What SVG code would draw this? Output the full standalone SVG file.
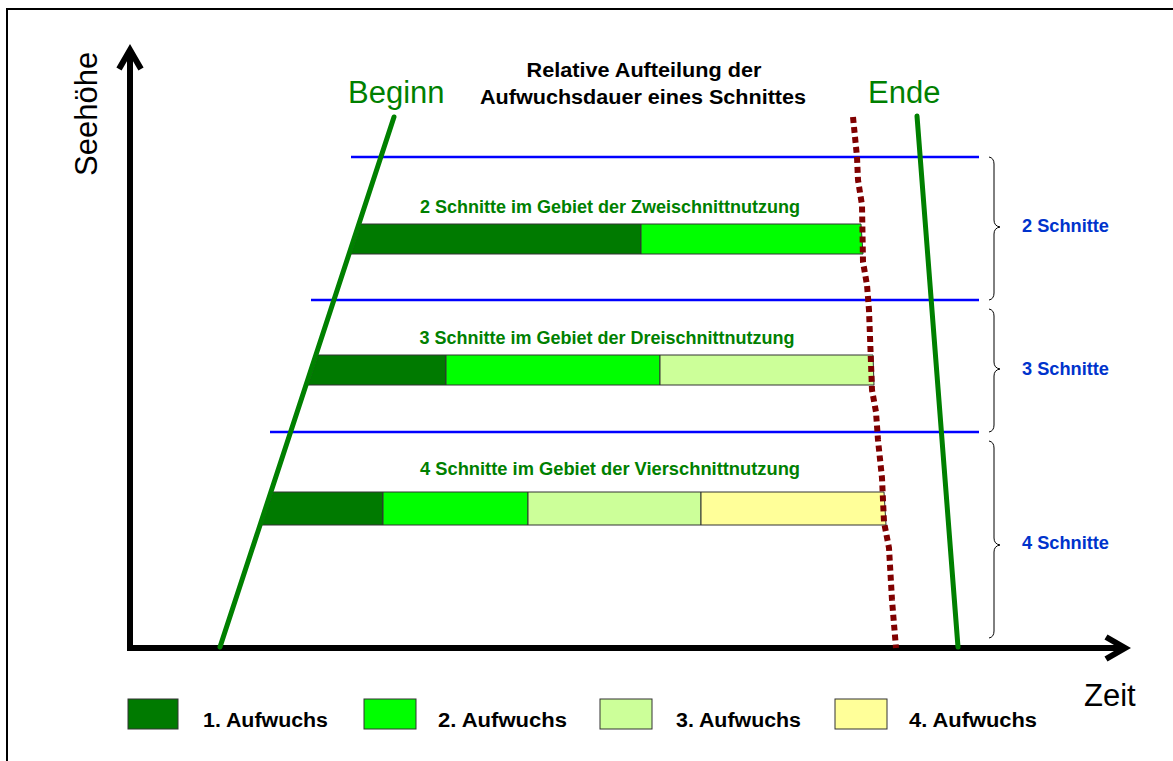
<svg xmlns="http://www.w3.org/2000/svg" width="1173" height="761" viewBox="0 0 1173 761">
<style>
.ax{stroke:#000;stroke-width:6;fill:none}
.big{font-family:"Liberation Sans",Arial,sans-serif;font-size:31px}
.g{fill:#008000}
.lbl{font-family:"Liberation Sans",Arial,sans-serif;font-weight:bold;font-size:17.5px;fill:#008000;text-anchor:middle}
.bl{font-family:"Liberation Sans",Arial,sans-serif;font-weight:bold;font-size:17.5px;fill:#0033CC}
.leg{font-family:"Liberation Sans",Arial,sans-serif;font-weight:bold;font-size:20px;fill:#000}
.ttl{font-family:"Liberation Sans",Arial,sans-serif;font-weight:bold;font-size:19.5px;fill:#000;text-anchor:middle}
.hl{stroke:#0000FF;stroke-width:2.5}
.gl{stroke:#008000;stroke-width:5;stroke-linecap:round}
.br{stroke:#000;stroke-width:1;fill:none}
.bar{stroke:#333;stroke-width:1}
.c1{fill:#007A00}.c2{fill:#00FF00}.c3{fill:#CCFF99}.c4{fill:#FFFF99}
</style>
<rect x="0" y="0" width="1173" height="761" fill="#fff"/>
<rect x="7" y="9" width="1175" height="770" fill="none" stroke="#000" stroke-width="2"/>

<g id="axes">
<line class="ax" x1="130" y1="651" x2="130" y2="50"/>
<polyline class="ax" points="119,69 130,50 141,69"/>
<line class="ax" x1="127" y1="648" x2="1124" y2="648"/>
<polyline class="ax" points="1106,637 1125,648 1106,659"/>
<text class="big" transform="translate(97,176) rotate(-90)" font-size="32">Seehöhe</text>
<text class="big" x="1084" y="706" font-size="32">Zeit</text>
</g>

<g id="title">
<text class="ttl" x="644" y="77" textLength="235" lengthAdjust="spacingAndGlyphs">Relative Aufteilung der</text>
<text class="ttl" x="643" y="104" textLength="326" lengthAdjust="spacingAndGlyphs">Aufwuchsdauer eines Schnittes</text>
</g>

<g id="bars">
<g id="bar2">
<polygon class="bar c1" points="361,224 641,224 641,254 351,254"/>
<polygon class="bar c2" points="641,224 861,224 863,254 641,254"/>
<text class="lbl" x="610" y="213" textLength="380" lengthAdjust="spacingAndGlyphs">2 Schnitte im Gebiet der Zweischnittnutzung</text>
</g>
<g id="bar3">
<polygon class="bar c1" points="318,355 446,355 446,385 308,385"/>
<polygon class="bar c2" points="446,355 660,355 660,385 446,385"/>
<polygon class="bar c3" points="660,355 873,355 874,385 660,385"/>
<text class="lbl" x="607" y="344" textLength="375" lengthAdjust="spacingAndGlyphs">3 Schnitte im Gebiet der Dreischnittnutzung</text>
</g>
<g id="bar4">
<polygon class="bar c1" points="273,492 383,492 383,525 262,525"/>
<polygon class="bar c2" points="383,492 528,492 528,525 383,525"/>
<polygon class="bar c3" points="528,492 701,492 701,525 528,525"/>
<polygon class="bar c4" points="701,492 884,492 886,525 701,525"/>
<text class="lbl" x="610" y="475" textLength="380" lengthAdjust="spacingAndGlyphs">4 Schnitte im Gebiet der Vierschnittnutzung</text>
</g>
</g>

<g id="connectors">
<line class="hl" x1="351" y1="157" x2="979" y2="157"/>
<line class="hl" x1="311" y1="300" x2="979" y2="300"/>
<line class="hl" x1="270" y1="432" x2="979" y2="432"/>
<line class="gl" x1="394" y1="117" x2="220" y2="647"/>
<line class="gl" x1="917" y1="116" x2="958" y2="647"/>
<polyline points="853,117 857,157 858,180 862,205 863,262 867,285 869,310 872,390 876,412 878,440 882,478 884,522 889,548 892,600 896,648" fill="none" stroke="#800000" stroke-width="6" stroke-dasharray="6,4"/>
<path class="br" d="M989,157 Q994,158 994,164 L994,220 Q994,226 1000,227 Q994,228 994,234 L994,293 Q994,299 989,300"/>
<path class="br" d="M989,309 Q994,310 994,316 L994,362 Q994,368 1000,369 Q994,370 994,376 L994,425 Q994,431 989,432"/>
<path class="br" d="M989,441 Q994,442 994,448 L994,538 Q994,544 1000,545 Q994,546 994,552 L994,631 Q994,637 989,638"/>
</g>

<g id="labels">
<text class="big g" x="348" y="103">Beginn</text>
<text class="big g" x="868" y="103">Ende</text>
<text class="bl" x="1022" y="232" textLength="87" lengthAdjust="spacingAndGlyphs">2 Schnitte</text>
<text class="bl" x="1022" y="375" textLength="87" lengthAdjust="spacingAndGlyphs">3 Schnitte</text>
<text class="bl" x="1022" y="549" textLength="87" lengthAdjust="spacingAndGlyphs">4 Schnitte</text>
</g>

<g id="legend">
<rect class="bar c1" x="128" y="699" width="50" height="30"/>
<text class="leg" x="203" y="727" textLength="125" lengthAdjust="spacingAndGlyphs">1. Aufwuchs</text>
<rect class="bar c2" x="364" y="699" width="52" height="30"/>
<text class="leg" x="438" y="727" textLength="129" lengthAdjust="spacingAndGlyphs">2. Aufwuchs</text>
<rect class="bar c3" x="600" y="699" width="52" height="30"/>
<text class="leg" x="676" y="727" textLength="125" lengthAdjust="spacingAndGlyphs">3. Aufwuchs</text>
<rect class="bar c4" x="835" y="699" width="52" height="30"/>
<text class="leg" x="909" y="727" textLength="128" lengthAdjust="spacingAndGlyphs">4. Aufwuchs</text>
</g>
</svg>
